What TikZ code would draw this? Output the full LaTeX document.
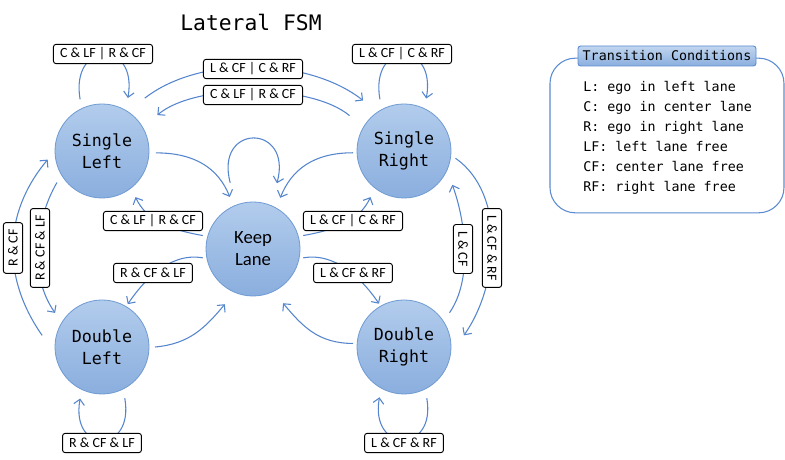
\documentclass[tikz,border=0pt]{standalone}
\usepackage{fontspec}
\setmainfont{Carlito}
\newfontfamily\monofont{DejaVu Sans Mono}
\usetikzlibrary{arrows.meta, positioning, calc}

\definecolor{edgeblue}{HTML}{5585CC}
\definecolor{circtop}{HTML}{B2CCEC}
\definecolor{circbot}{HTML}{8AAEDE}
\definecolor{circline}{HTML}{6F9BD3}
\definecolor{legblue}{HTML}{5B8BD0}

\tikzset{
  lanestate/.style={circle, minimum size=70.5pt, inner sep=0pt, draw=circline, line width=0.6pt,
    top color=circtop, bottom color=circbot, align=center,
    font=\monofont\fontsize{12.5}{16.5}\selectfont},
  cond/.style={draw, rounded corners=2pt, fill=white, line width=0.7pt, inner xsep=5pt,
    inner ysep=0pt, minimum height=14.5pt, font=\fontsize{10.5}{12}\selectfont},
  trans/.style={draw=edgeblue, line width=0.8pt, -{Straight Barb[length=4pt,width=8pt]}},
}

\begin{document}
\begin{tikzpicture}[x=0.75pt, y=0.75pt]
        \useasboundingbox (0,0) rectangle (785,460);
        \node (title) at (251,438) {\monofont\fontsize{16}{19}\selectfont Lateral FSM};

        % states
        \node[lanestate] (SL) at (102,309) {Single\\Left};
        \node[lanestate] (SR) at (404,309) {Single\\Right};
        \node[lanestate, font=\fontsize{14}{16.5}\selectfont] (KL) at (253,211) {Keep\\Lane};
        \node[lanestate] (DL) at (102,113) {Double\\Left};
        \node[lanestate] (DR) at (404,113) {Double\\Right};

        % self loops
        \draw[trans] ($(SL)+(113:56)$) .. controls +(100:60) and +(80:60) .. ($(SL)+(64:59)$);
        \draw[trans] ($(SR)+(115:57)$) .. controls +(100:60) and +(80:60) .. ($(SR)+(67:57)$);
        \draw[trans] ($(KL)+(109:70)$) .. controls +(105:62) and +(75:62) .. ($(KL)+(70:70)$);
        \draw[trans] ($(DL)+(-66:56)$) .. controls +(-80:57) and +(-100:57) .. ($(DL)+(247:56)$);
        \draw[trans] ($(DR)+(-66:56)$) .. controls +(-80:57) and +(-100:57) .. ($(DR)+(244:56)$);

        % top arcs
        \draw[trans] ($(SL)+(51:68)$) .. controls +(38:70) and +(142:70) .. ($(SR)+(129:65)$);
        \draw[trans] ($(SR)+(147:65)$) .. controls +(140:50) and +(40:50) .. ($(SL)+(33:66)$);

        % into keep lane
        \draw[trans] ($(SL)+(-2:54)$) .. controls +(0:40) and +(112:30) .. ($(KL)+(114:57)$);
        \draw[trans] ($(SR)+(182:51)$) .. controls +(180:40) and +(68:30) .. ($(KL)+(62:58)$);
        \draw[trans] ($(DL)+(0:53)$) .. controls +(5:35) and +(230:30) .. ($(KL)+(243:62)$);
        \draw[trans] ($(DR)+(176:51)$) .. controls +(180:35) and +(-50:30) .. ($(KL)+(-61:62)$);

        % out of keep lane
        \draw[trans] ($(KL)+(165:52)$) .. controls +(170:35) and +(-65:25) .. ($(SL)+(-54:57)$);
        \draw[trans] ($(KL)+(15:52)$) .. controls +(10:35) and +(245:25) .. ($(SR)+(234:57)$);
        \draw[trans] ($(KL)+(190:51)$) .. controls +(170:35) and +(56:25) .. ($(DL)+(59:50)$);
        \draw[trans] ($(KL)+(-10:51)$) .. controls +(10:35) and +(124:25) .. ($(DR)+(120:50)$);

        % side arcs
        \draw[trans] ($(DL)+(169:61)$) .. controls +(125:70) and +(230:70) .. ($(SL)+(189:55)$);
        \draw[trans] ($(SL)+(215:55)$) .. controls +(240:45) and +(125:45) .. ($(DL)+(144:58)$);
        \draw[trans] ($(DR)+(37:57)$) .. controls +(55:40) and +(-70:40) .. ($(SR)+(-35:59)$);
        \draw[trans] ($(SR)+(-8:52)$) .. controls +(-35:62) and +(55:62) .. ($(DR)+(11:61)$);

        % conditions
        \node[cond] (cSL) at (103,406) {C \& LF | R \& CF};
        \node[cond] (cSR) at (402,406) {L \& CF | C \& RF};
        \node[cond] (cTop1) at (253,391) {L \& CF | C \& RF};
        \node[cond] (cTop2) at (253,365) {C \& LF | R \& CF};
        \node[cond] (cKSL) at (153,239) {C \& LF | R \& CF};
        \node[cond] (cKSR) at (353,239) {L \& CF | C \& RF};
        \node[cond] (cKDL) at (153,187) {R \& CF \& LF};
        \node[cond] (cKDR) at (353,187) {L \& CF \& RF};
        \node[cond] (cDL) at (102,17) {R \& CF \& LF};
        \node[cond] (cDR) at (404,17) {L \& CF \& RF};
        \node[cond, rotate=90] (cLout) at (13,212) {R \& CF};
        \node[cond, rotate=90] (cLin) at (40,212) {R \& CF \& LF};
        \node[cond, rotate=-90] (cRout) at (463,211) {L \& CF};
        \node[cond, rotate=-90] (cRin) at (492,212) {L \& CF \& RF};

        % legend
        \node[draw=legblue, line width=0.8pt, rounded corners=19pt, minimum width=175.5pt,
              minimum height=116pt] (legend) at (667,324.5) {};
        \node[draw=legblue, line width=0.7pt, rounded corners=2pt, top color=circtop!80!white,
              bottom color=circbot, minimum width=133.5pt, minimum height=15pt, inner sep=0pt,
              font=\monofont\fontsize{10}{12}\selectfont] (legtitle) at (667,404) {Transition Conditions};
        \node[anchor=north west, align=left, inner sep=3.33pt,
              font=\monofont\fontsize{10}{15}\selectfont] (legtext) at (578.6,383.6)
              {L: ego in left lane\\C: ego in center lane\\R: ego in right lane\\LF: left lane free\\CF: center lane free\\RF: right lane free};
    \end{tikzpicture}
\end{document}
